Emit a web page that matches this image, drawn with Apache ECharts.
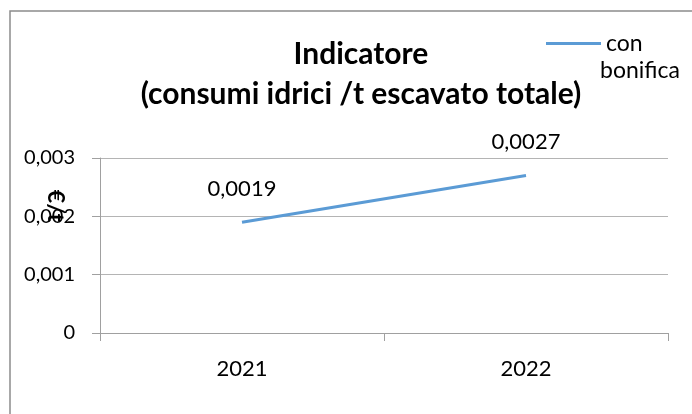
<!DOCTYPE html>
<html>
<head>
<meta charset="utf-8">
<script src="https://cdn.jsdelivr.net/npm/echarts@6/dist/echarts.min.js"></script>
<style>
  html, body { margin: 0; padding: 0; background: #fff; }
  #chart { width: 692px; height: 414px; }
</style>
</head>
<body>
<div id="chart"></div>
<script>
// data
const years = ['2021', '2022']
const conBonifica = [0.0019, 0.0027]
const yTicks = [0, 0.001, 0.002, 0.003]

const fmt = v => String(v).replace('.', ',')
const font = 'Lato, "Open Sans", sans-serif'
const blue = '#5b9bd5'

const chart = echarts.init(document.getElementById('chart'))

const option = {
    animation: false,
    textStyle: { fontFamily: font },
    title: {
        text: 'Indicatore\n(consumi idrici /t escavato totale)',
        left: 356,
        textAlign: 'center',
        top: 29,
        textStyle: { fontFamily: font, fontWeight: 'bold', fontSize: 30, lineHeight: 40, color: '#000' }
    },
    legend: {
        data: ['con bonifica'],
        left: 541,
        top: 27,
        icon: 'rect',
        itemWidth: 55,
        itemHeight: 3,
        itemGap: 2,
        itemStyle: { color: blue, opacity: 1 },
        formatter: () => 'con',
        textStyle: { fontFamily: font, fontSize: 23, color: '#000' }
    },
    grid: { left: 100, right: 24, top: 158, bottom: 81, containLabel: false },
    xAxis: {
        type: 'category',
        data: years,
        boundaryGap: true,
        axisLine: { lineStyle: { color: '#a0a0a0', width: 1 } },
        axisTick: { show: true, length: 8, lineStyle: { color: '#a0a0a0' } },
        axisLabel: { margin: 25, fontSize: 22, color: '#000', fontFamily: font }
    },
    yAxis: {
        type: 'value',
        min: yTicks[0],
        max: yTicks[yTicks.length - 1],
        interval: 0.001,
        axisLine: { show: true, lineStyle: { color: '#a0a0a0', width: 1 } },
        axisTick: { show: true, length: 8, lineStyle: { color: '#a0a0a0' } },
        axisLabel: { margin: 25, fontSize: 20, color: '#000', fontFamily: font, formatter: v => fmt(v) },
        splitLine: { show: true, lineStyle: { color: '#b4b4b4', width: 1 } }
    },
    series: [{
        name: 'con bonifica',
        type: 'line',
        data: conBonifica,
        showSymbol: true,
        symbol: 'circle',
        symbolSize: 1,
        lineStyle: { color: blue, width: 3 },
        itemStyle: { color: 'rgba(0,0,0,0)', borderWidth: 0 },
        label: {
            show: true,
            position: 'top',
            distance: 22,
            fontSize: 22,
            color: '#000',
            fontFamily: font,
            formatter: p => fmt(p.value)
        }
    }],
    graphic: [
        {
            type: 'rect',
            shape: { x: 10, y: 11, width: 720, height: 440 },
            style: { fill: 'none', stroke: '#8c8c8c', lineWidth: 1.5 },
            silent: true
        },
        {
            type: 'text',
            left: 600,
            top: 59,
            style: { text: 'bonifica', fontSize: 23, fontFamily: font, fill: '#000' }
        },
        {
            type: 'text',
            x: 55,
            y: 206,
            rotation: -Math.PI / 2,
            style: { text: '€/t', fontSize: 23, fontWeight: 'bold', fontFamily: font, fill: '#000', align: 'center', verticalAlign: 'middle' }
        }
    ]
}

chart.setOption(option)
</script>
</body>
</html>
